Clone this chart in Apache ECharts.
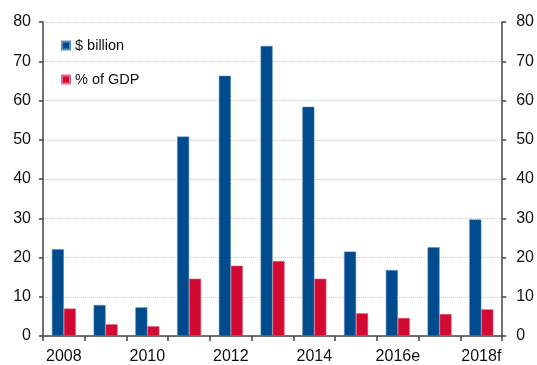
<!DOCTYPE html>
<html>
<head>
<meta charset="utf-8">
<script src="https://cdn.jsdelivr.net/npm/echarts@6/dist/echarts.min.js"></script>
<style>
  html, body { margin: 0; padding: 0; background: #fff; }
  #chart { width: 537px; height: 365px; }
</style>
</head>
<body>
<div id="chart"></div>
<script>
// categories and values
var years = ['2008', '2009', '2010', '2011', '2012', '2013', '2014', '2015', '2016e', '2017', '2018f'];
var billions = [22.1, 7.9, 7.3, 50.8, 66.3, 73.9, 58.4, 21.5, 16.8, 22.6, 29.7];
var pctGdp = [7.0, 3.0, 2.5, 14.6, 17.9, 19.1, 14.6, 5.8, 4.6, 5.6, 6.8];

var BLUE = '#004b8d';
var RED = '#d20a33';
var FONT = 'Liberation Sans';

var chart = echarts.init(document.getElementById('chart'));

function valueAxis(pos) {
  return {
    type: 'value',
    position: pos,
    min: 0,
    max: 80,
    interval: 10,
    axisLine: { show: true, lineStyle: { color: '#444', width: 1.5 } },
    axisTick: { show: true, length: 4, lineStyle: { color: '#444', width: 1.5 } },
    axisLabel: { color: '#111', fontSize: 16, fontFamily: FONT, margin: pos == 'left' ? 12 : 14 },
    splitLine: { show: pos == 'left', lineStyle: { color: '#cccccc', type: 'dotted' } }
  };
}

var option = {
  animation: false,
  grid: { left: 43, right: 32, top: 22, bottom: 28, containLabel: false },
  legend: {
    left: 56,
    top: 33,
    orient: 'vertical',
    itemWidth: 8,
    itemHeight: 8,
    itemGap: 19,
    icon: 'rect',
    textStyle: { color: '#111', fontSize: 14.5, fontFamily: FONT },
    data: ['$ billion', '% of GDP']
  },
  xAxis: {
    type: 'category',
    data: years,
    axisLine: { lineStyle: { color: '#444', width: 1.5 } },
    axisTick: { show: true, interval: 0, length: 5, lineStyle: { color: '#444', width: 1.5 } },
    axisLabel: { interval: 1, color: '#111', fontSize: 16, fontFamily: FONT, margin: 13 }
  },
  yAxis: [valueAxis('left'), valueAxis('right')],
  series: [
    {
      name: '$ billion',
      type: 'bar',
      data: billions,
      barWidth: 12,
      barGap: '0%',
      itemStyle: { color: BLUE, borderColor: '#5b8cc0', borderWidth: 0.5 }
    },
    {
      name: '% of GDP',
      type: 'bar',
      data: pctGdp,
      barWidth: 12,
      itemStyle: { color: RED, borderColor: '#e86a84', borderWidth: 0.5 }
    }
  ]
};

chart.setOption(option);
</script>
</body>
</html>
